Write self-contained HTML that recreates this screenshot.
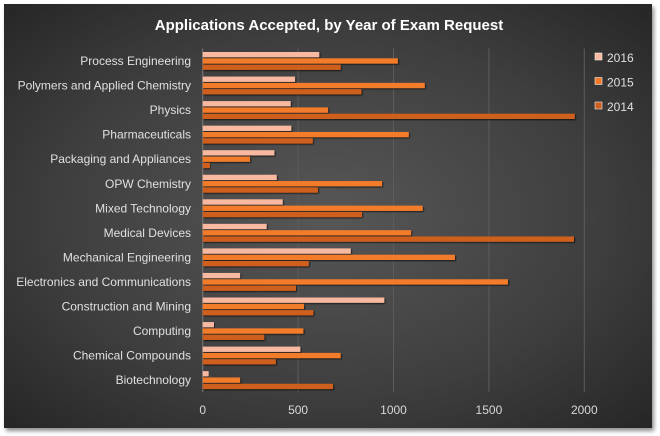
<!DOCTYPE html>
<html><head><meta charset="utf-8"><style>
body{margin:0;background:#fff;width:660px;height:436px;overflow:hidden;font-family:"Liberation Sans",sans-serif}
#frame{position:absolute;left:4px;top:4px;width:648px;height:424px;background:radial-gradient(ellipse at 50% 50%,#575757 0%,#3e3e3e 60%,#262626 100%);box-shadow:2px 3px 4px rgba(0,0,0,.45)}
</style></head><body>
<div id="frame"></div>
<svg id="chart" width="660" height="436" style="position:absolute;left:0;top:0">
<defs><filter id="sh" x="-5%" y="-50%" width="110%" height="220%"><feDropShadow dx="1" dy="1" stdDeviation="0.8" flood-color="#000" flood-opacity="0.7"/></filter></defs>
<text x="329" y="30" fill="#fff" font-size="15" font-weight="bold" text-anchor="middle">Applications  Accepted, by Year of Exam Request</text>
</svg>
<script>
const categories=["Process Engineering","Polymers and Applied Chemistry","Physics","Pharmaceuticals","Packaging and Appliances","OPW Chemistry","Mixed Technology","Medical Devices","Mechanical Engineering","Electronics and Communications","Construction and Mining","Computing","Chemical Compounds","Biotechnology"];
const series2016=[611,484,461,465,376,388,419,335,776,196,952,59,512,31];
const series2015=[1023,1164,657,1080,248,940,1153,1092,1322,1600,531,528,723,196];
const series2014=[723,832,1950,577,38,604,835,1946,556,489,580,323,383,683];
const seriesNames=["2016","2015","2014"];
const ticks=[0,500,1000,1500,2000];
const svg=document.getElementById('chart');
const NS="http://www.w3.org/2000/svg";
const x0=202.7,pxPer=0.1908,top0=48.5,groupH=24.55;
const X=v=>x0+v*pxPer;
const Yg=i=>top0+i*groupH;
const colors=["#f8b9a0","#f27b2a","#cf5f1f"];
function mk(t,a){const e=document.createElementNS(NS,t);for(const k in a)e.setAttribute(k,a[k]);svg.appendChild(e);return e;}
ticks.forEach(t=>{
 const g=mk('line',{x1:X(t),x2:X(t),y1:top0,y2:top0+categories.length*groupH,stroke:t===0?'#7a7a7a':'#5c5c5c','stroke-width':1});
 
 
 const l=mk('text',{x:X(t),y:414,fill:'#d8d8d8','font-size':12,'text-anchor':'middle'});
 l.textContent=t;
 
 
});
const all=[series2016,series2015,series2014];
categories.forEach((c,i)=>{
 const lb=mk('text',{x:191,y:Yg(i)+16.5,fill:'#e0e0e0','font-size':12,'text-anchor':'end'});
 lb.textContent=c;
 
 
 all.forEach((s,j)=>{
  const r=mk('rect',{x:x0,y:Yg(i)+3.5+j*6.3,width:Math.max(0,X(s[i])-x0),height:5.3,fill:colors[j],filter:'url(#sh)'});
  
  
 });
});
seriesNames.forEach((n,j)=>{
 const r=mk('rect',{x:595,y:53+j*24.5,width:7,height:7,fill:colors[j],stroke:'#eee','stroke-width':0.6});
 
 
 const t=mk('text',{x:607,y:62+j*24.5,fill:'#e0e0e0','font-size':12});
 t.textContent=n;
 
 
});
</script>
</body></html>
